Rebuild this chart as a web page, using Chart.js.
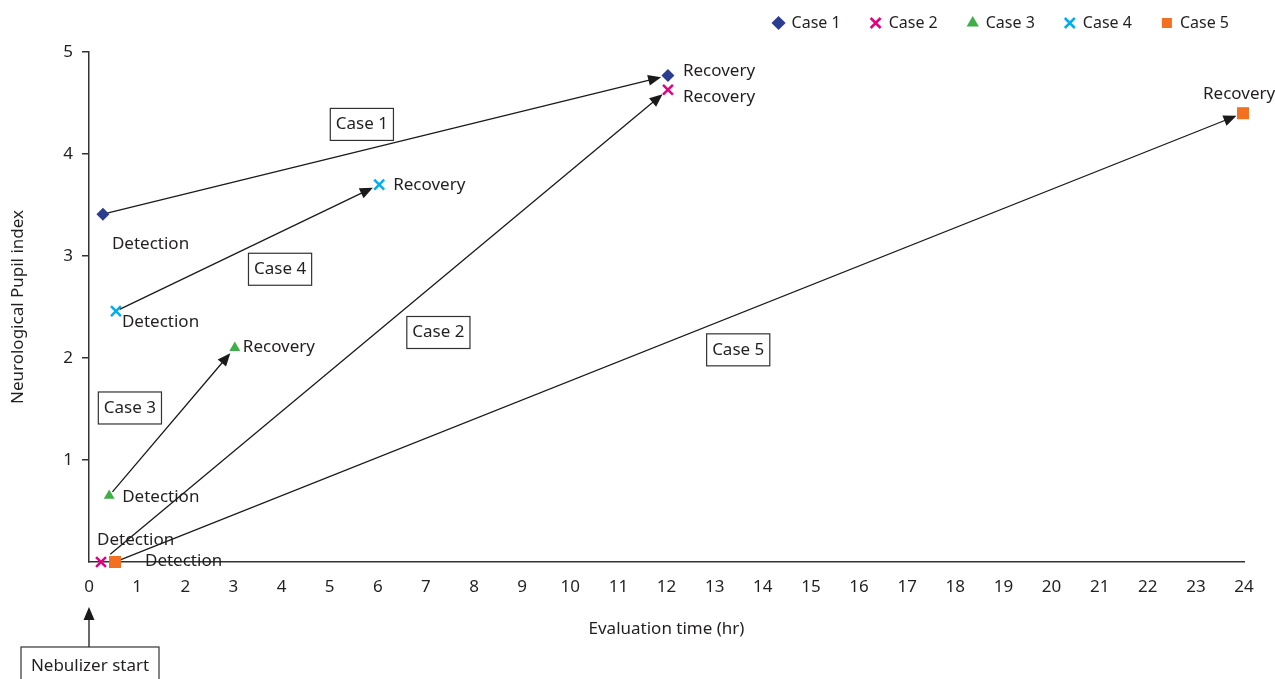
<!DOCTYPE html>
<html>
<head>
<meta charset="utf-8">
<script src="https://cdn.jsdelivr.net/npm/chart.js"></script>
<style>
  body { margin: 0; background: #fff; }
  #wrap { width: 1275px; height: 679px; }
</style>
</head>
<body>
<div id="wrap"><canvas id="myChart" width="1275" height="679"></canvas></div>
<script>
// values
const cases = ['Case 1', 'Case 2', 'Case 3', 'Case 4', 'Case 5'];
const detectionTime = [0.29, 0.25, 0.42, 0.56, 0.54];
const detectionNPi = [3.41, 0, 0.65, 2.46, 0];
const recoveryTime = [12.03, 12.03, 3.03, 6.03, 23.98];
const recoveryNPi = [4.77, 4.63, 2.1, 3.7, 4.4];
const hourTicks = [0, 1, 2, 3, 4, 5, 6, 7, 8, 9, 10, 11, 12, 13, 14, 15, 16, 17, 18, 19, 20, 21, 22, 23, 24];
const npiTicks = [1, 2, 3, 4, 5];

const fontFamily = '"Noto Sans", "Open Sans", sans-serif';
const textColor = '#231f20';
const colors = ['#2b3d8f', '#e4007f', '#3fae49', '#00aeef', '#f37021'];
const shapes = ['rectRot', 'crossRot', 'triangle', 'crossRot', 'rect'];
const radii = [6.5, 7, 6.3, 7, 8.5];

// where the text goes around each point (pixels) and where the case boxes sit (axis units)
const notes = {
  detection: [[9, 30], [-4, -22], [13, 1], [6, 11], [30, -1]],
  recovery: [[15, -4], [15, 7], [8, -1], [14, 1], [-40, -19]],
  boxes: [[5.67, 4.29], [7.26, 2.25], [0.85, 1.51], [3.97, 2.87], [13.49, 2.08]],
  startTrim: [0, 12, 5, 4, 5],
  endTrim: 7
};

function drawArrow(ctx, x1, y1, x2, y2) {
  const a = Math.atan2(y2 - y1, x2 - x1);
  const c = Math.cos(a), s = Math.sin(a);
  ctx.beginPath();
  ctx.moveTo(x1, y1);
  ctx.lineTo(x2 - 8 * c, y2 - 8 * s);
  ctx.stroke();
  ctx.beginPath();
  ctx.moveTo(x2, y2);
  ctx.lineTo(x2 - 13 * c - 5.5 * s, y2 - 13 * s + 5.5 * c);
  ctx.lineTo(x2 - 13 * c + 5.5 * s, y2 - 13 * s - 5.5 * c);
  ctx.closePath();
  ctx.fill();
}

const annotate = {
  id: 'annotate',
  beforeInit(chart) {
    const fit = chart.legend.fit;
    chart.legend.fit = function () {
      fit.call(this);
      this.height = 52;
    };
  },
  afterLayout(chart) {
    const lg = chart.legend;
    lg.top -= 15; lg.bottom -= 15;
    lg.left += 15; lg.right += 15;
  },
  beforeDatasetsDraw(chart) {
    const {ctx, scales: {x, y}} = chart;
    ctx.save();
    ctx.strokeStyle = '#1a1a1a';
    ctx.fillStyle = '#1a1a1a';
    ctx.lineWidth = 1.3;
    cases.forEach((c, i) => {
      let x1 = x.getPixelForValue(detectionTime[i]);
      let y1 = y.getPixelForValue(detectionNPi[i]);
      let x2 = x.getPixelForValue(recoveryTime[i]);
      let y2 = y.getPixelForValue(recoveryNPi[i]);
      const len = Math.hypot(x2 - x1, y2 - y1);
      const ux = (x2 - x1) / len, uy = (y2 - y1) / len;
      x1 += ux * notes.startTrim[i]; y1 += uy * notes.startTrim[i];
      x2 -= ux * notes.endTrim; y2 -= uy * notes.endTrim;
      drawArrow(ctx, x1, y1, x2, y2);
    });
    ctx.restore();
  },
  afterDatasetsDraw(chart) {
    const {ctx, scales: {x, y}} = chart;
    ctx.save();
    ctx.font = '17px ' + fontFamily;
    ctx.fillStyle = textColor;
    ctx.textBaseline = 'middle';
    ctx.textAlign = 'left';
    cases.forEach((c, i) => {
      const dx = x.getPixelForValue(detectionTime[i]);
      const dy = y.getPixelForValue(detectionNPi[i]);
      ctx.fillText('Detection', dx + notes.detection[i][0], dy + notes.detection[i][1]);
      const rx = x.getPixelForValue(recoveryTime[i]);
      const ry = y.getPixelForValue(recoveryNPi[i]);
      ctx.fillText('Recovery', rx + notes.recovery[i][0], ry + notes.recovery[i][1]);
    });
    // boxed case names
    ctx.textAlign = 'center';
    ctx.strokeStyle = '#333';
    ctx.lineWidth = 1.2;
    cases.forEach((c, i) => {
      const bx = x.getPixelForValue(notes.boxes[i][0]);
      const by = y.getPixelForValue(notes.boxes[i][1]);
      const w = ctx.measureText(c).width + 11;
      ctx.fillStyle = '#fff';
      ctx.fillRect(bx - w / 2, by - 16, w, 32);
      ctx.strokeRect(bx - w / 2, by - 16, w, 32);
      ctx.fillStyle = textColor;
      ctx.fillText(c, bx, by);
    });
    // nebulizer start marker under time zero
    const zx = x.getPixelForValue(0);
    ctx.fillStyle = '#1a1a1a';
    ctx.strokeStyle = '#1a1a1a';
    ctx.lineWidth = 1.3;
    drawArrow(ctx, zx, 647, zx, 607);
    ctx.strokeStyle = '#333';
    ctx.lineWidth = 1.2;
    ctx.strokeRect(21, 647, 138, 45);
    ctx.fillStyle = textColor;
    ctx.fillText('Nebulizer start', zx + 1, 666);
    ctx.restore();
  }
};

const myChart = document.getElementById('myChart');

let scatterChart = new Chart(myChart, {
  type: 'scatter',
  data: {
    datasets: cases.map((name, i) => ({
      label: name,
      data: [
        {x: detectionTime[i], y: detectionNPi[i]},
        {x: recoveryTime[i], y: recoveryNPi[i]}
      ],
      pointStyle: shapes[i],
      backgroundColor: colors[i],
      borderColor: colors[i],
      borderWidth: shapes[i] === 'crossRot' ? 2.5 : 0,
      pointRadius: radii[i],
      pointHoverRadius: radii[i],
      clip: false
    }))
  },
  options: {
    responsive: false,
    animation: false,
    events: [],
    layout: {padding: {top: 0, right: 31, bottom: 0, left: 0}},
    plugins: {
      tooltip: {enabled: false},
      legend: {
        position: 'top',
        align: 'end',
        labels: {
          usePointStyle: true,
          boxWidth: 10,
          boxHeight: 10,
          padding: 30,
          color: textColor,
          font: {family: fontFamily, size: 16}
        }
      }
    },
    scales: {
      x: {
        type: 'linear',
        min: 0,
        max: 24,
        afterBuildTicks: s => { s.ticks = hourTicks.map(v => ({value: v})); },
        afterFit: s => { s.height = 117; },
        grid: {display: false, drawTicks: false},
        border: {display: true, color: '#333', width: 1.5},
        ticks: {
          color: textColor,
          padding: 15,
          maxRotation: 0,
          autoSkip: false,
          font: {family: fontFamily, size: 17}
        },
        title: {
          display: true,
          text: 'Evaluation time (hr)',
          color: textColor,
          font: {family: fontFamily, size: 17},
          padding: {top: 0, bottom: 40}
        }
      },
      y: {
        min: 0,
        max: 5,
        afterBuildTicks: s => { s.ticks = npiTicks.map(v => ({value: v})); },
        afterFit: s => { s.width = 89; },
        grid: {drawOnChartArea: false, drawTicks: true, tickLength: 7, color: '#333', lineWidth: 1.5},
        border: {display: true, color: '#333', width: 1.5},
        ticks: {
          color: textColor,
          padding: 9,
          font: {family: fontFamily, size: 17}
        },
        title: {
          display: true,
          text: 'Neurological Pupil index',
          color: textColor,
          font: {family: fontFamily, size: 17},
          padding: {top: 8, bottom: 0}
        }
      }
    }
  },
  plugins: [annotate]
});
</script>
</body>
</html>
